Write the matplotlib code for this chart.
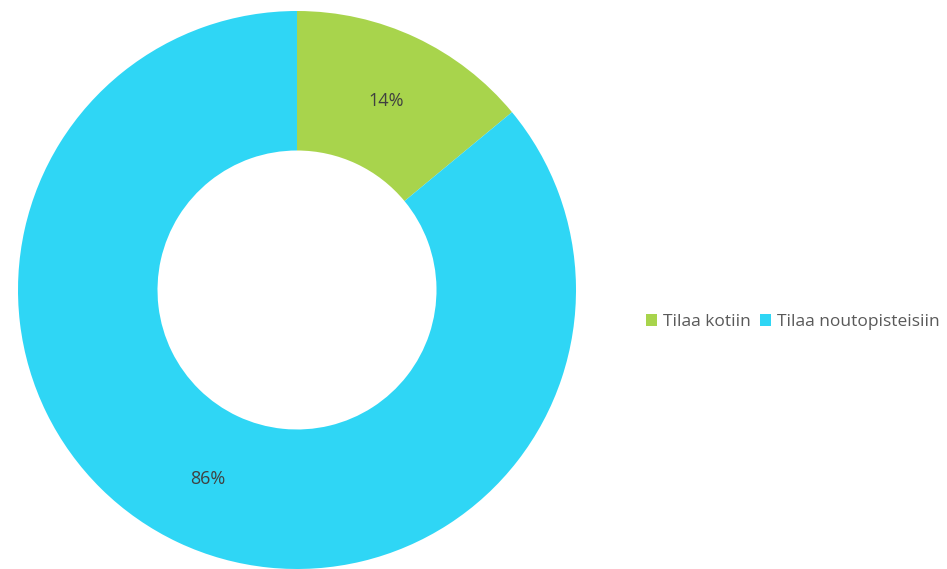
import matplotlib
matplotlib.use("Agg")
import matplotlib.pyplot as plt
from matplotlib.patches import Patch

categories = ["Tilaa kotiin", "Tilaa noutopisteisiin"]
values = [14, 86]
colors = ["#A8D44C", "#2FD6F5"]

fig = plt.figure(figsize=(9.47, 5.69), dpi=100)
plt.rcParams['font.family'] = ['Open Sans', 'DejaVu Sans']
ax = fig.add_axes([18/947, 0/569, 558/947, 558/569])
ax.pie(values, colors=colors, startangle=90, counterclock=False,
       radius=1.0, wedgeprops=dict(width=0.5, edgecolor='none'),
       autopct=lambda p: f"{p:.0f}%", pctdistance=0.75,
       textprops=dict(color="#404040", fontsize=13))
ax.set_xlim(-1, 1)
ax.set_ylim(-1, 1)
ax.set_aspect('equal')
ax.axis('off')

handles = [Patch(facecolor=c, edgecolor='none') for c in colors]
fig.legend(handles, categories, loc='center', bbox_to_anchor=(793/947, 1 - 322/569),
           ncol=2, frameon=False, fontsize=12.5, labelcolor="#595959",
           handlelength=0.65, handleheight=0.65, handletextpad=0.35, columnspacing=0.5)

fig.savefig("out.png", dpi=100)
